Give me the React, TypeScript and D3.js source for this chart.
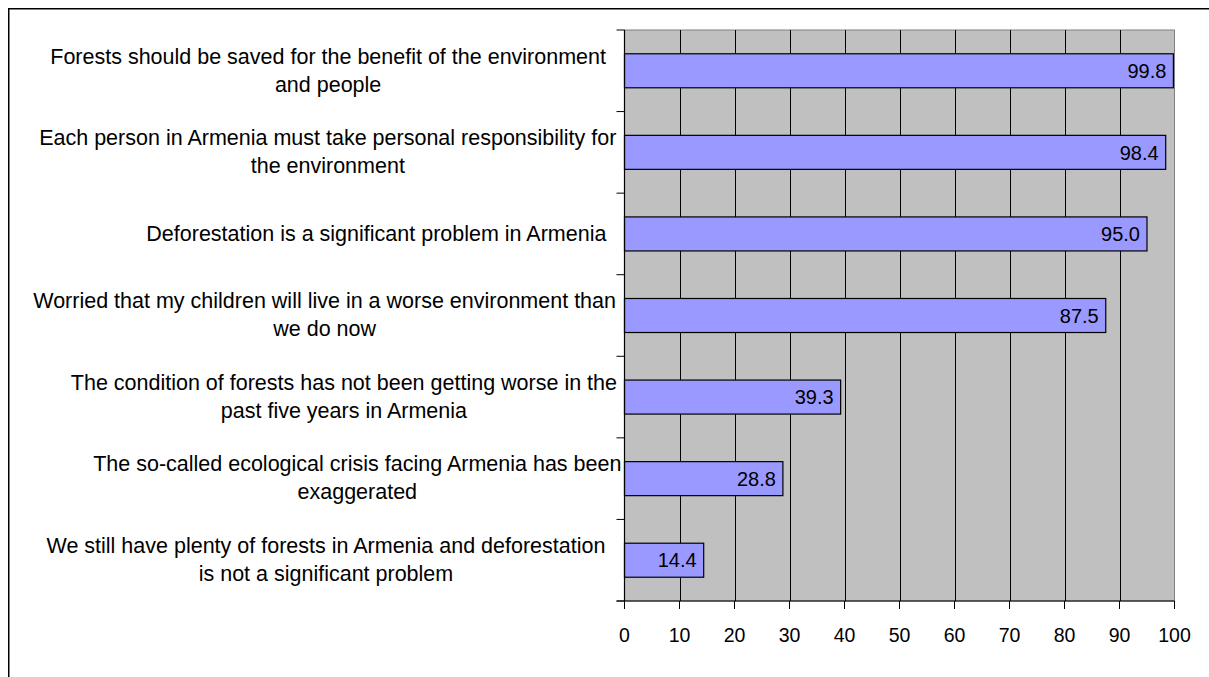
import React from "react";
import * as d3 from "d3";

const categories: string[][] = [
  ["Forests should be saved for the benefit of the environment", "and people"],
  ["Each person in Armenia must take personal responsibility for", "the environment"],
  ["Deforestation is a significant problem in Armenia"],
  ["Worried that my children will live in a worse environment than", "we do now"],
  ["The condition of forests has not been getting worse in the", "past five years in Armenia"],
  ["The so-called ecological crisis facing Armenia has been", "exaggerated"],
  ["We still have plenty of forests in Armenia and deforestation", "is not a significant problem"],
];
const values: number[] = [99.8, 98.4, 95.0, 87.5, 39.3, 28.8, 14.4];
const xTicks: number[] = [0, 10, 20, 30, 40, 50, 60, 70, 80, 90, 100];

// layout: right edge of each wrapped label block (lines centred inside the block)
const labelRight: number[] = [606, 617, 607, 616, 617, 622, 606];

const W = 1209;
const H = 677;
const left = 624.5;
const right = 1174.5;
const top = 30;
const bottom = 601;
const FONT = "'Liberation Sans', Arial, sans-serif";
const FS_CAT = 21.5;
const FS_TICK = 19.5;
const FS_VAL = 20;

function measure(text: string, size: number): number {
  const c = document.createElement("canvas");
  const ctx = c.getContext("2d")!;
  ctx.font = `${size}px 'Liberation Sans', Arial, sans-serif`;
  return ctx.measureText(text).width;
}

export default function App() {
  const x = d3.scaleLinear().domain([0, 100]).range([left, right]);
  const idx = categories.map((_, i) => String(i));
  const y = d3.scaleBand().domain(idx).range([top, bottom]).paddingInner(0.583).paddingOuter(0.2915);
  const step = y.step();
  const bounds = d3.range(categories.length + 1).map((i) => top + i * step);

  return (
    <svg
      width={W}
      height={H}
      style={{ position: "absolute", left: 0, top: 0, display: "block" }}
      fontFamily={FONT}
    >
      <rect x={0} y={0} width={W} height={H} fill="#ffffff" />
      <rect x={8.75} y={8.75} width={W + 20} height={H + 20} fill="none" stroke="#000" strokeWidth={1.5} />
      <rect x={left} y={top} width={right - left} height={bottom - top} fill="#c0c0c0" stroke="#808080" strokeWidth={1} />
      {xTicks.slice(1, -1).map((t) => (
        <line key={"g" + t} x1={Math.round(x(t)) + 0.5} x2={Math.round(x(t)) + 0.5} y1={top} y2={bottom} stroke="#000" strokeWidth={1} />
      ))}
      {values.map((v, i) => {
        const by = y(String(i))!;
        const bw = y.bandwidth();
        return (
          <g key={"b" + i}>
            <rect x={left} y={by} width={x(v) - left} height={bw} fill="#9999ff" stroke="#000" strokeWidth={1.2} />
            <text x={x(v) - 7} y={by + bw / 2} dy="0.36em" textAnchor="end" fontSize={FS_VAL} fill="#000">
              {v.toFixed(1)}
            </text>
          </g>
        );
      })}
      <line x1={left} x2={left} y1={top} y2={bottom} stroke="#000" strokeWidth={1.2} />
      <line x1={left - 8} x2={right} y1={bottom} y2={bottom} stroke="#000" strokeWidth={1.2} />
      {bounds.map((b, i) => (
        <line key={"yt" + i} x1={left - 8} x2={left} y1={b} y2={b} stroke="#000" strokeWidth={1} />
      ))}
      {xTicks.map((t) => (
        <g key={"xt" + t}>
          <line x1={x(t)} x2={x(t)} y1={bottom} y2={bottom + 8} stroke="#000" strokeWidth={1} />
          <text x={x(t)} y={635} dy="0.36em" textAnchor="middle" fontSize={FS_TICK} fill="#000">
            {t}
          </text>
        </g>
      ))}
      {categories.map((lines, i) => {
        const cy = y(String(i))! + y.bandwidth() / 2 - 1;
        const lh = 28;
        const y0 = cy - ((lines.length - 1) * lh) / 2;
        const blockW = Math.max(...lines.map((l) => measure(l, FS_CAT)));
        const cx = labelRight[i] - blockW / 2;
        return lines.map((ln, j) => (
          <text
            key={"c" + i + "_" + j}
            x={cx}
            y={y0 + j * lh}
            dy="0.36em"
            textAnchor="middle"
            fontSize={FS_CAT}
            fill="#000"
          >
            {ln}
          </text>
        ));
      })}
    </svg>
  );
}
